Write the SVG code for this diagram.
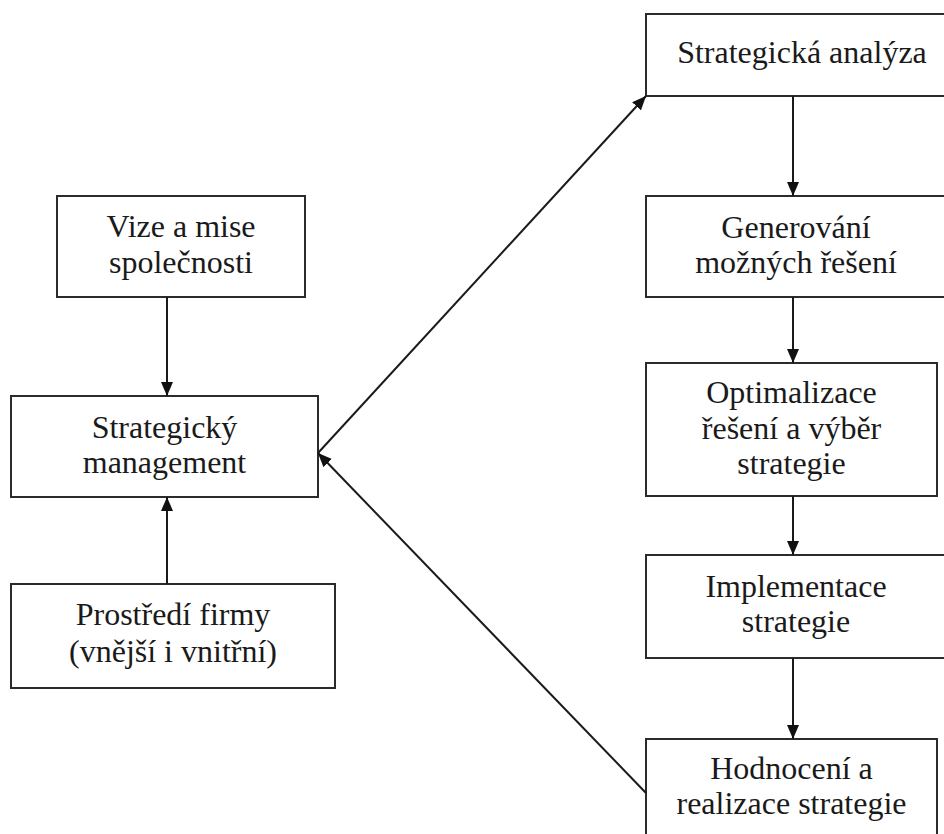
<svg xmlns="http://www.w3.org/2000/svg" width="944" height="834" viewBox="0 0 944 834">
  <style>
    .box { fill: #ffffff; stroke: #2b2b2b; stroke-width: 2; }
    .lbl { font-family: "Liberation Serif", "Times New Roman", serif; font-size: 32px; fill: #1a1a1a; text-anchor: middle; }
    .edge { stroke: #1a1a1a; stroke-width: 2; fill: none; marker-end: url(#arrow); }
  </style>
  <defs>
    <marker id="arrow" viewBox="0 0 14 12" refX="14" refY="6" markerWidth="14" markerHeight="12" markerUnits="userSpaceOnUse" orient="auto">
      <path d="M0,0 L14,6 L0,12 Z" fill="#111111"/>
    </marker>
  </defs>
  <rect width="944" height="834" fill="#ffffff"/>

  <!-- left column -->
  <g id="vize">
    <rect class="box" x="57" y="196" width="248" height="101"/>
    <text class="lbl" x="181" y="237">Vize a mise</text>
    <text class="lbl" x="181" y="273">společnosti</text>
  </g>
  <g id="management">
    <rect class="box" x="11" y="396" width="307" height="101"/>
    <text class="lbl" x="164.5" y="438">Strategický</text>
    <text class="lbl" x="164.5" y="473">management</text>
  </g>
  <g id="prostredi">
    <rect class="box" x="11" y="584" width="324" height="104"/>
    <text class="lbl" x="173" y="625">Prostředí firmy</text>
    <text class="lbl" x="173" y="662">(vnější i vnitřní)</text>
  </g>

  <!-- right column: process steps -->
  <g id="analyza">
    <rect class="box" x="646" y="14" width="312" height="82"/>
    <text class="lbl" x="802" y="63">Strategická analýza</text>
  </g>
  <g id="generovani">
    <rect class="box" x="646" y="196" width="300" height="101"/>
    <text class="lbl" x="796" y="238">Generování</text>
    <text class="lbl" x="796" y="273">možných řešení</text>
  </g>
  <g id="optimalizace">
    <rect class="box" x="646" y="363" width="291" height="133"/>
    <text class="lbl" x="791.5" y="403">Optimalizace</text>
    <text class="lbl" x="791.5" y="439">řešení a výběr</text>
    <text class="lbl" x="791.5" y="474">strategie</text>
  </g>
  <g id="implementace">
    <rect class="box" x="646" y="555" width="300" height="103"/>
    <text class="lbl" x="796" y="597">Implementace</text>
    <text class="lbl" x="796" y="632">strategie</text>
  </g>
  <g id="hodnoceni">
    <rect class="box" x="646" y="739" width="291" height="104"/>
    <text class="lbl" x="791.5" y="779">Hodnocení a</text>
    <text class="lbl" x="791.5" y="814">realizace strategie</text>
  </g>

  <g id="connectors">
    <line class="edge" x1="167" y1="297" x2="167" y2="396"/>
    <line class="edge" x1="167" y1="584" x2="167" y2="497"/>
    <line class="edge" x1="318" y1="453" x2="646" y2="96"/>
    <line class="edge" x1="646" y1="793" x2="318" y2="453"/>
    <line class="edge" x1="793" y1="96" x2="793" y2="196"/>
    <line class="edge" x1="793" y1="297" x2="793" y2="363"/>
    <line class="edge" x1="793" y1="496" x2="793" y2="555"/>
    <line class="edge" x1="793" y1="658" x2="793" y2="739"/>
  </g>
</svg>
